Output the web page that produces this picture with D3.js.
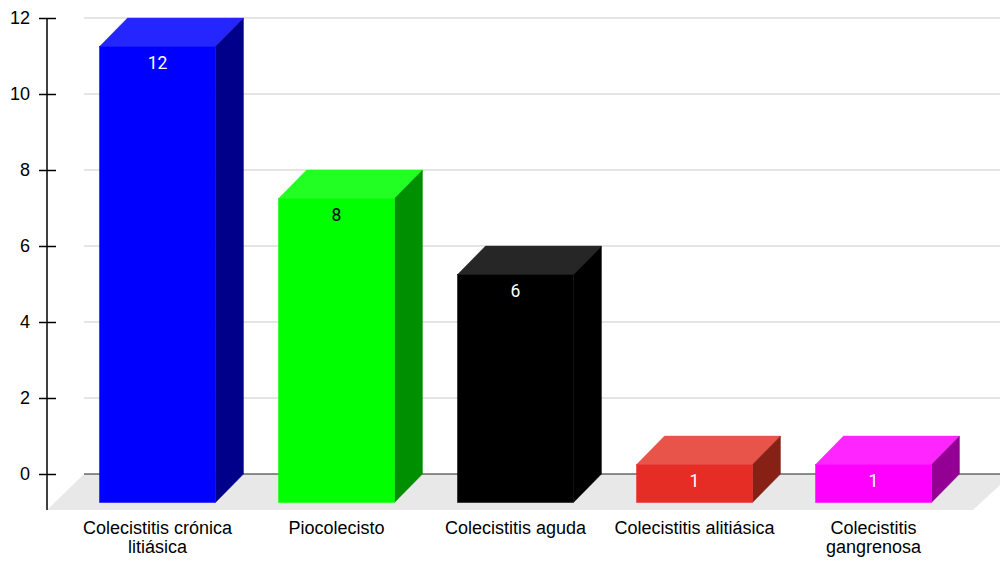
<!DOCTYPE html>
<html><head><meta charset="utf-8">
<script src="https://cdn.jsdelivr.net/npm/d3@7"></script>
<style>body{margin:0;background:#fff}svg{display:block}</style>
</head><body>
<svg id="c" width="1000" height="561"></svg>
<script>
const categories = [["Colecistitis crónica","litiásica"],["Piocolecisto"],["Colecistitis aguda"],["Colecistitis alitiásica"],["Colecistitis","gangrenosa"]];
const values = [12, 8, 6, 1, 1];
const frontColors = ["#0000ff","#00ff00","#000000","#e52d26","#ff00ff"];
const topColors = ["#2525ff","#22ff22","#262626","#e8544a","#ff25ff"];
const sideColors = ["#00008b","#008f00","#000000","#872015","#930093"];
const labelColors = ["#ffffff","#000000","#ffffff","#ffffff","#ffffff"];
const yTicks = [0,2,4,6,8,10,12];

const svg = d3.select("#c");
const dx = 28, dy = 28.5;
const y = d3.scaleLinear().domain([0,12]).range([474,18]);
const x = d3.scaleBand().domain(d3.range(values.length)).range([68,963]).paddingInner(0.352).paddingOuter(0.176);

// floor
svg.append("polygon").attr("points", [[84,474],[1012,474],[973,510],[47,510]].map(p=>p.join(",")).join(" ")).attr("fill","#e8e8e8");

// grid
svg.append("g").selectAll("line").data(yTicks.filter(t=>t!==0)).join("line")
  .attr("x1",84).attr("x2",1000).attr("y1",d=>y(d)).attr("y2",d=>y(d))
  .attr("stroke","#cccccc").attr("stroke-width",1.2);
svg.append("line").attr("x1",84).attr("x2",1000).attr("y1",y(0)).attr("y2",y(0)).attr("stroke","#222").attr("stroke-width",1.2);

// y axis
const yAxis = d3.axisLeft(y).tickValues(yTicks).tickSize(0).tickPadding(0);
const ga = svg.append("g").attr("transform","translate(47,0)").call(yAxis);
ga.select(".domain").remove();
ga.selectAll(".tick text").attr("x",-17).attr("font-family","Liberation Sans, Arial, sans-serif").attr("font-size",18).attr("fill","#000");
ga.selectAll(".tick").append("line").attr("x1",-8).attr("x2",9).attr("stroke","#000").attr("stroke-width",1.5);
svg.append("line").attr("x1",47).attr("x2",47).attr("y1",18).attr("y2",510).attr("stroke","#000").attr("stroke-width",1.5);

// bars
const bars = svg.append("g").selectAll("g").data(values).join("g");
bars.each(function(v,i){
  const g = d3.select(this);
  const x0 = x(i), x1 = x(i)+x.bandwidth();
  const yt = y(v)+dy, yb = y(0)+dy;
  g.append("polygon").attr("points",[[x0,yt],[x0+dx,yt-dy],[x1+dx,yt-dy],[x1,yt]].map(p=>p.join(",")).join(" ")).attr("fill",topColors[i]).attr("stroke",topColors[i]).attr("stroke-width",0.4);
  g.append("polygon").attr("points",[[x1,yt],[x1+dx,yt-dy],[x1+dx,yb-dy],[x1,yb]].map(p=>p.join(",")).join(" ")).attr("fill",sideColors[i]).attr("stroke",sideColors[i]).attr("stroke-width",0.4);
  g.append("rect").attr("x",x0).attr("y",yt).attr("width",x.bandwidth()).attr("height",yb-yt).attr("fill",frontColors[i]).attr("stroke",frontColors[i]).attr("stroke-width",0.5);
  g.append("text").attr("x",(x0+x1)/2).attr("y",yt+22).attr("text-anchor","middle")
    .attr("font-family","Roboto, sans-serif").attr("font-size",17.5).attr("fill",labelColors[i]).text(v);
});

// category labels
const cl = svg.append("g").selectAll("text").data(categories).join("text")
  .attr("text-anchor","middle").attr("font-family","Liberation Sans, Arial, sans-serif").attr("font-size",18).attr("fill","#000")
  .attr("transform",(d,i)=>`translate(${x(i)+x.bandwidth()/2},534)`);
cl.selectAll("tspan").data(d=>d).join("tspan").attr("x",0).attr("dy",(d,j)=>j===0?0:19).text(d=>d);
</script>
</body></html>
